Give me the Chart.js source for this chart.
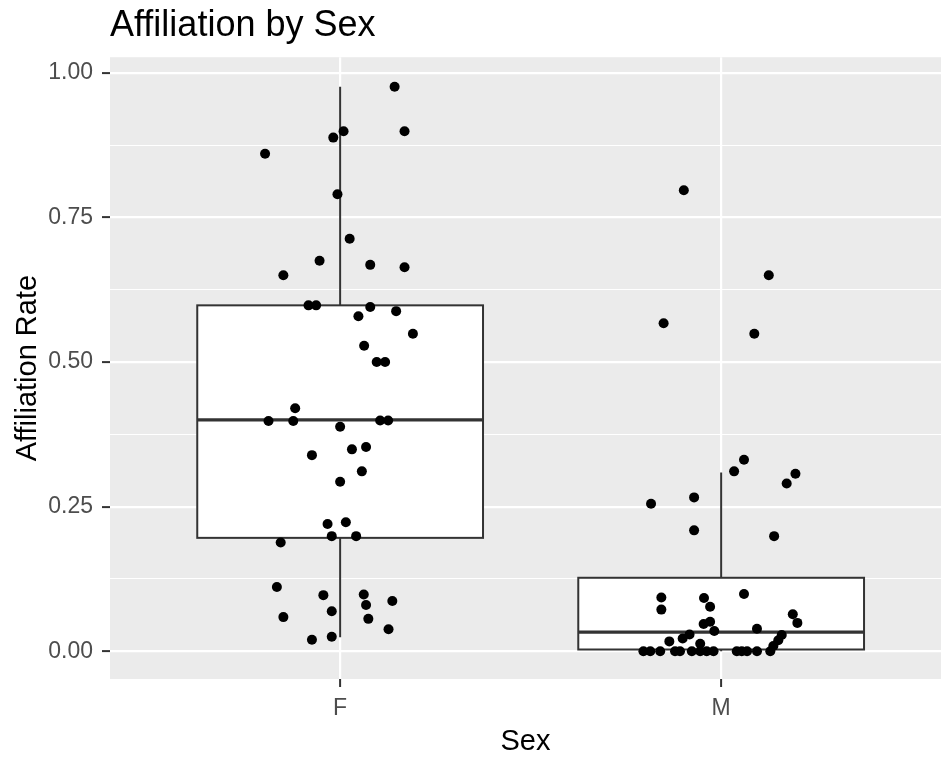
<!DOCTYPE html>
<html>
<head>
<meta charset="utf-8">
<title>Affiliation by Sex</title>
<script src="https://cdn.jsdelivr.net/npm/chart.js@4.4.1/dist/chart.umd.min.js"></script>
<style>
  html, body { margin: 0; padding: 0; background: #ffffff; }
  #wrap { width: 941px; height: 759px; }
</style>
</head>
<body>
<div id="wrap"><canvas id="myChart" width="941" height="759"></canvas></div>
<script>
// categories on the x axis (1 = F, 2 = M)
const sexes = ['F', 'M'];
const yMajor = [0, 0.25, 0.5, 0.75, 1];
const yMinor = [0.125, 0.375, 0.625, 0.875];

// box summary per sex
const boxLower = [0.196, 0.003];
const boxMedian = [0.400, 0.033];
const boxUpper = [0.598, 0.127];
const whiskerLow = [0.024, 0.000];
const whiskerHigh = [0.976, 0.309];

// jittered observations, females
const femaleX = [1.143, 1.009, 0.982, 1.169, 0.803, 0.993, 1.025, 0.946, 0.851, 1.079,
                 1.169, 0.917, 0.937, 1.079, 1.048, 1.147, 1.191, 1.063, 1.096, 1.118,
                 0.882, 0.812, 0.877, 1.105, 1.126, 1.000, 0.926, 1.031, 1.068, 1.057,
                 1.000, 0.967, 1.015, 0.978, 1.042, 0.844, 0.834, 0.956, 1.062, 1.068,
                 1.137, 0.851, 0.978, 1.074, 1.127, 0.926, 0.978];
const femaleY = [0.976, 0.899, 0.888, 0.899, 0.860, 0.790, 0.713, 0.675, 0.650, 0.668,
                 0.664, 0.598, 0.598, 0.595, 0.579, 0.588, 0.549, 0.528, 0.500, 0.500,
                 0.420, 0.398, 0.398, 0.399, 0.399, 0.388, 0.339, 0.349, 0.353, 0.311,
                 0.293, 0.220, 0.223, 0.199, 0.199, 0.188, 0.111, 0.097, 0.098, 0.080,
                 0.087, 0.059, 0.069, 0.056, 0.038, 0.020, 0.025];

// jittered observations, males
const maleX = [1.902, 2.125, 1.849, 2.087, 2.060, 2.034, 2.195, 2.172, 1.816, 1.929,
               1.929, 2.139, 1.843, 1.843, 1.955, 1.971, 2.060, 2.188, 2.200, 1.954,
               1.971, 1.982, 2.094, 1.917, 1.899, 1.864, 2.159, 2.150, 2.137, 1.945,
               1.796, 1.814, 1.840, 1.879, 1.892, 1.923, 1.945, 1.962, 1.980, 2.041,
               2.054, 2.068, 2.094, 2.129];
const maleY = [0.797, 0.650, 0.567, 0.549, 0.331, 0.311, 0.307, 0.290, 0.255, 0.266,
               0.209, 0.199, 0.093, 0.072, 0.092, 0.077, 0.099, 0.064, 0.049, 0.047,
               0.051, 0.035, 0.039, 0.029, 0.022, 0.017, 0.028, 0.019, 0.009, 0.013,
               0.000, 0.000, 0.000, 0.000, 0.000, 0.000, 0.000, 0.000, 0.000, 0.000,
               0.000, 0.000, 0.000, 0.000];

const boxWidth = 0.75;
const lineColor = '#333333';

function toPoints(xs, ys) {
    return xs.map((x, i) => ({ x: x, y: ys[i] }));
}

function isMajor(v) {
    return yMajor.some(m => Math.abs(m - v) < 1e-9);
}

// grey panel behind the grid
const panelPlugin = {
    id: 'panel',
    beforeDraw(chart) {
        const a = chart.chartArea;
        const ctx = chart.ctx;
        ctx.save();
        ctx.fillStyle = '#ebebeb';
        ctx.fillRect(a.left, a.top, a.right - a.left, a.bottom - a.top);
        ctx.restore();
    }
};

// boxes and whiskers, drawn under the points
const boxPlugin = {
    id: 'boxes',
    beforeDatasetsDraw(chart) {
        const ctx = chart.ctx;
        const xs = chart.scales.x;
        const ys = chart.scales.y;
        ctx.save();
        sexes.forEach((s, i) => {
            const cx = xs.getPixelForValue(i + 1);
            const left = xs.getPixelForValue(i + 1 - boxWidth / 2);
            const right = xs.getPixelForValue(i + 1 + boxWidth / 2);
            const top = ys.getPixelForValue(boxUpper[i]);
            const bottom = ys.getPixelForValue(boxLower[i]);
            const mid = ys.getPixelForValue(boxMedian[i]);

            ctx.strokeStyle = lineColor;
            ctx.lineWidth = 2;
            ctx.beginPath();
            ctx.moveTo(cx, ys.getPixelForValue(whiskerHigh[i]));
            ctx.lineTo(cx, top);
            ctx.moveTo(cx, bottom);
            ctx.lineTo(cx, ys.getPixelForValue(whiskerLow[i]));
            ctx.stroke();

            ctx.fillStyle = '#ffffff';
            ctx.fillRect(left, top, right - left, bottom - top);
            ctx.strokeRect(left, top, right - left, bottom - top);

            ctx.lineWidth = 3.3;
            ctx.beginPath();
            ctx.moveTo(left, mid);
            ctx.lineTo(right, mid);
            ctx.stroke();
        });
        ctx.restore();
    }
};

Chart.defaults.font.family = "'Liberation Sans', Arial, sans-serif";

const ctx = document.getElementById('myChart').getContext('2d');
const myChart = new Chart(ctx, {
    type: 'scatter',
    data: {
        datasets: [{
            label: 'F',
            data: toPoints(femaleX, femaleY),
            backgroundColor: '#000000',
            borderWidth: 0,
            pointRadius: 5
        }, {
            label: 'M',
            data: toPoints(maleX, maleY),
            backgroundColor: '#000000',
            borderWidth: 0,
            pointRadius: 5
        }]
    },
    plugins: [panelPlugin, boxPlugin],
    options: {
        responsive: false,
        animation: false,
        layout: { padding: 0, autoPadding: false },
        plugins: {
            legend: { display: false },
            tooltip: { enabled: false },
            title: {
                display: true,
                text: 'Affiliation by Sex',
                align: 'start',
                fullSize: false,
                color: '#000000',
                font: { size: 36, weight: 'normal' },
                padding: { top: 4, bottom: 10 }
            }
        },
        scales: {
            x: {
                type: 'linear',
                min: 0.396,
                max: 2.577,
                afterBuildTicks: scale => {
                    scale.ticks = sexes.map((s, i) => ({ value: i + 1 }));
                },
                afterFit: scale => {
                    scale.height = 80;
                    scale.paddingLeft = 0;
                    scale.paddingRight = 0;
                },
                ticks: {
                    callback: value => sexes[Math.round(value) - 1],
                    color: '#4d4d4d',
                    font: { size: 23 },
                    padding: 8,
                    maxRotation: 0,
                    autoSkip: false
                },
                grid: {
                    color: '#ffffff',
                    lineWidth: 2.2,
                    tickColor: lineColor,
                    tickLength: 8,
                    tickWidth: 2
                },
                border: { display: false },
                title: {
                    display: true,
                    text: 'Sex',
                    color: '#000000',
                    font: { size: 29 },
                    padding: 0
                }
            },
            y: {
                min: -0.048,
                max: 1.027,
                afterBuildTicks: scale => {
                    scale.ticks = yMajor.concat(yMinor).sort((a, b) => a - b).map(v => ({ value: v }));
                },
                afterFit: scale => {
                    scale.width = 110;
                    scale.paddingTop = 0;
                    scale.paddingBottom = 0;
                },
                ticks: {
                    callback: value => isMajor(value) ? value.toFixed(2) : '',
                    color: '#4d4d4d',
                    font: { size: 23 },
                    padding: 9,
                    autoSkip: false
                },
                grid: {
                    color: '#ffffff',
                    lineWidth: c => isMajor(c.tick.value) ? 2.2 : 1.1,
                    tickColor: c => isMajor(c.tick.value) ? lineColor : 'rgba(0,0,0,0)',
                    tickLength: 8,
                    tickWidth: 2
                },
                border: { display: false },
                title: {
                    display: true,
                    text: 'Affiliation Rate',
                    color: '#000000',
                    font: { size: 29 },
                    padding: { top: 11, bottom: 0 }
                }
            }
        }
    }
});
</script>
</body>
</html>
